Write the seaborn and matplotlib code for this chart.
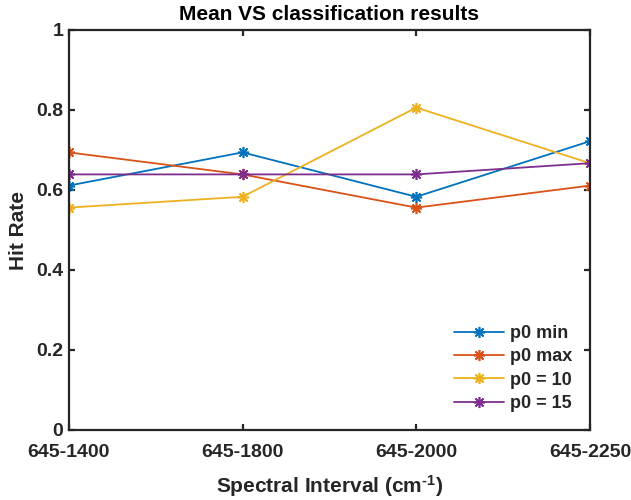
import matplotlib
matplotlib.use("Agg")
import matplotlib.pyplot as plt
import seaborn as sns
import pandas as pd

categories = ["645-1400", "645-1800", "645-2000", "645-2250"]
series_names = ["p0 min", "p0 max", "p0 = 10", "p0 = 15"]
p0_min = [0.611, 0.694, 0.583, 0.722]
p0_max = [0.694, 0.639, 0.556, 0.611]
p0_10 = [0.556, 0.583, 0.806, 0.667]
p0_15 = [0.639, 0.639, 0.639, 0.667]
yticks = [0, 0.2, 0.4, 0.6, 0.8, 1]
ytick_labels = ["0", "0.2", "0.4", "0.6", "0.8", "1"]
colors = ["#0072BD", "#D95319", "#EDB120", "#7E2F8E"]

rows = []
for name, vals in zip(series_names, [p0_min, p0_max, p0_10, p0_15]):
    for i, v in enumerate(vals):
        rows.append({"pos": i, "val": v, "series": name})
df = pd.DataFrame(rows)

sns.set_theme(style="white")
plt.rcParams["font.family"] = ["Liberation Sans", "DejaVu Sans"]
plt.rcParams["font.weight"] = "bold"
plt.rcParams["mathtext.fontset"] = "custom"
plt.rcParams["mathtext.rm"] = "Liberation Sans:bold"
plt.rcParams["mathtext.bf"] = "Liberation Sans:bold"
plt.rcParams["mathtext.default"] = "rm"

fig = plt.figure(figsize=(6.31, 5.0), dpi=100)
ax = fig.add_axes([0.109, 0.14, 0.826, 0.80])

ast = (8, 2, 0)
sns.lineplot(data=df, x="pos", y="val", hue="series", style="series",
             hue_order=series_names, style_order=series_names,
             palette=colors, markers={n: ast for n in series_names},
             dashes=False, linewidth=1.3, markersize=8, ax=ax, legend=False)
for line in ax.lines:
    line.set_markeredgecolor(line.get_color())
    line.set_markeredgewidth(1.2)

ax.set_xlim(0, len(categories) - 1)
ax.set_ylim(0, 1)
ax.set_xticks(range(len(categories)))
ax.set_xticklabels(categories)
ax.set_yticks(yticks)
ax.set_yticklabels(ytick_labels)

for s in ax.spines.values():
    s.set_visible(True)
    s.set_linewidth(1.6)
    s.set_color("#262626")
ax.tick_params(axis="both", which="both", direction="in", length=4, width=1.6,
               color="#262626", top=True, right=True, bottom=True, left=True,
               labelsize=14, labelcolor="#262626")
ax.tick_params(axis="x", pad=10)
ax.tick_params(axis="y", pad=4)
for lbl in ax.get_xticklabels() + ax.get_yticklabels():
    lbl.set_fontweight("bold")

ax.set_title("Mean VS classification results", fontsize=15, fontweight="bold",
             color="black", pad=7)
ax.set_xlabel(r"Spectral Interval (cm$^{\text{-1}}$)", fontsize=15, fontweight="bold",
              color="#262626", labelpad=9)
ax.set_ylabel("Hit Rate", fontsize=15, fontweight="bold", color="#262626", labelpad=6)

leg = ax.legend(ax.lines, series_names, loc="lower right", frameon=False,
                fontsize=13, handlelength=2.8, labelspacing=0.35,
                borderaxespad=0.6, handletextpad=0.3)
for t in leg.get_texts():
    t.set_fontweight("bold")

fig.savefig("out.png", dpi=100)
